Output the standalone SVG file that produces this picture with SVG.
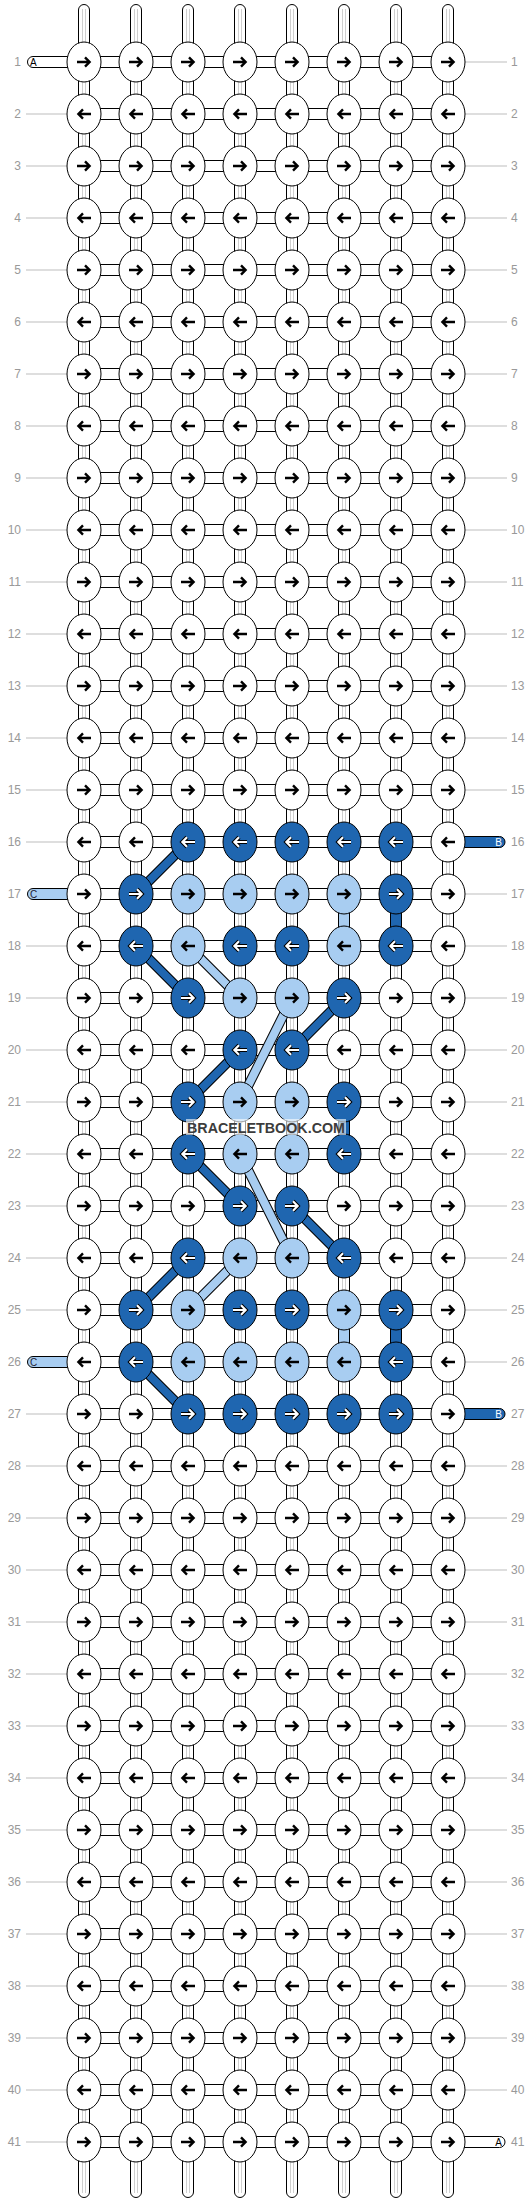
<svg xmlns="http://www.w3.org/2000/svg" xmlns:xlink="http://www.w3.org/1999/xlink" width="532" height="2204" viewBox="0 0 532 2204">
<style>
.lbl{font-family:"Liberation Sans",Arial,sans-serif;font-size:12px;fill:#999}
.le{text-anchor:end}
.tl{font-family:"Liberation Sans",Arial,sans-serif;font-size:10px}
.ar{fill:none;stroke:#000;stroke-width:2.4}
.aw1{fill:none;stroke:#000;stroke-width:4.2}
.aw2{fill:none;stroke:#fff;stroke-width:2.2}
.ew{fill:#fff;stroke:#000;stroke-width:1}
.ed{fill:#1f66b0;stroke:#000;stroke-width:1}
.el{fill:#a8cdf1;stroke:#000;stroke-width:1}
.str{fill:#fff;stroke:#000;stroke-width:1}
.inner{fill:none;stroke:#cfcfcf;stroke-width:1}
.dk{fill:#1f66b0;stroke:#000;stroke-width:1}
.lt{fill:#a8cdf1;stroke:#000;stroke-width:1}
.dgo{stroke:#000;stroke-width:10}
.dgd{stroke:#1f66b0;stroke-width:8}
.dgl{stroke:#a8cdf1;stroke-width:8}
</style>
<defs>
<path id="pR" d="M-7 0H5.2M1-4.7L5.6 0L1 4.7"/>
<path id="pL" d="M7 0H-5.2M-1-4.7L-5.6 0L-1 4.7"/>
<g id="wR"><ellipse class="ew" rx="17" ry="20"/><use href="#pR" class="ar"/></g>
<g id="wL"><ellipse class="ew" rx="17" ry="20"/><use href="#pL" class="ar"/></g>
<g id="lR"><ellipse class="el" rx="17" ry="20"/><use href="#pR" class="ar"/></g>
<g id="lL"><ellipse class="el" rx="17" ry="20"/><use href="#pL" class="ar"/></g>
<g id="dR"><ellipse class="ed" rx="17" ry="20"/><use href="#pR" class="aw1"/><use href="#pR" class="aw2"/></g>
<g id="dL"><ellipse class="ed" rx="17" ry="20"/><use href="#pL" class="aw1"/><use href="#pL" class="aw2"/></g>
<pattern id="hp" x="0" y="56" width="532" height="52" patternUnits="userSpaceOnUse"><rect x="84" y="0.5" width="364" height="11" fill="#fff" stroke="#000"/></pattern>
</defs>
<rect width="532" height="2204" fill="#fff"/>
<g id="labels">
<path fill="none" stroke="#bdbdbd" stroke-width="1" d="M26 114H67M26 166H67M26 218H67M26 270H67M26 322H67M26 374H67M26 426H67M26 478H67M26 530H67M26 582H67M26 634H67M26 686H67M26 738H67M26 790H67M26 842H67M26 946H67M26 998H67M26 1050H67M26 1102H67M26 1154H67M26 1206H67M26 1258H67M26 1310H67M26 1414H67M26 1466H67M26 1518H67M26 1570H67M26 1622H67M26 1674H67M26 1726H67M26 1778H67M26 1830H67M26 1882H67M26 1934H67M26 1986H67M26 2038H67M26 2090H67M26 2142H67M465 62H507M465 114H507M465 166H507M465 218H507M465 270H507M465 322H507M465 374H507M465 426H507M465 478H507M465 530H507M465 582H507M465 634H507M465 686H507M465 738H507M465 790H507M465 894H507M465 946H507M465 998H507M465 1050H507M465 1102H507M465 1154H507M465 1206H507M465 1258H507M465 1310H507M465 1362H507M465 1466H507M465 1518H507M465 1570H507M465 1622H507M465 1674H507M465 1726H507M465 1778H507M465 1830H507M465 1882H507M465 1934H507M465 1986H507M465 2038H507M465 2090H507"/>
<g class="lbl le">
<text x="21" y="66">1</text><text x="21" y="118">2</text><text x="21" y="170">3</text><text x="21" y="222">4</text><text x="21" y="274">5</text><text x="21" y="326">6</text><text x="21" y="378">7</text><text x="21" y="430">8</text><text x="21" y="482">9</text><text x="21" y="534">10</text><text x="21" y="586">11</text><text x="21" y="638">12</text><text x="21" y="690">13</text><text x="21" y="742">14</text><text x="21" y="794">15</text><text x="21" y="846">16</text><text x="21" y="898">17</text><text x="21" y="950">18</text><text x="21" y="1002">19</text><text x="21" y="1054">20</text><text x="21" y="1106">21</text><text x="21" y="1158">22</text><text x="21" y="1210">23</text><text x="21" y="1262">24</text><text x="21" y="1314">25</text><text x="21" y="1366">26</text><text x="21" y="1418">27</text><text x="21" y="1470">28</text><text x="21" y="1522">29</text><text x="21" y="1574">30</text><text x="21" y="1626">31</text><text x="21" y="1678">32</text><text x="21" y="1730">33</text><text x="21" y="1782">34</text><text x="21" y="1834">35</text><text x="21" y="1886">36</text><text x="21" y="1938">37</text><text x="21" y="1990">38</text><text x="21" y="2042">39</text><text x="21" y="2094">40</text><text x="21" y="2146">41</text>
</g>
<g class="lbl">
<text x="511" y="66">1</text><text x="511" y="118">2</text><text x="511" y="170">3</text><text x="511" y="222">4</text><text x="511" y="274">5</text><text x="511" y="326">6</text><text x="511" y="378">7</text><text x="511" y="430">8</text><text x="511" y="482">9</text><text x="511" y="534">10</text><text x="511" y="586">11</text><text x="511" y="638">12</text><text x="511" y="690">13</text><text x="511" y="742">14</text><text x="511" y="794">15</text><text x="511" y="846">16</text><text x="511" y="898">17</text><text x="511" y="950">18</text><text x="511" y="1002">19</text><text x="511" y="1054">20</text><text x="511" y="1106">21</text><text x="511" y="1158">22</text><text x="511" y="1210">23</text><text x="511" y="1262">24</text><text x="511" y="1314">25</text><text x="511" y="1366">26</text><text x="511" y="1418">27</text><text x="511" y="1470">28</text><text x="511" y="1522">29</text><text x="511" y="1574">30</text><text x="511" y="1626">31</text><text x="511" y="1678">32</text><text x="511" y="1730">33</text><text x="511" y="1782">34</text><text x="511" y="1834">35</text><text x="511" y="1886">36</text><text x="511" y="1938">37</text><text x="511" y="1990">38</text><text x="511" y="2042">39</text><text x="511" y="2094">40</text><text x="511" y="2146">41</text>
</g>
</g>
<g id="connectors">
<rect x="0" y="56" width="532" height="2092" fill="url(#hp)"/>
<rect class="str" x="78.5" y="4.5" width="11" height="2193" rx="5.5"/>
<rect class="str" x="130.5" y="4.5" width="11" height="2193" rx="5.5"/>
<rect class="str" x="182.5" y="4.5" width="11" height="2193" rx="5.5"/>
<rect class="str" x="234.5" y="4.5" width="11" height="2193" rx="5.5"/>
<rect class="str" x="286.5" y="4.5" width="11" height="2193" rx="5.5"/>
<rect class="str" x="338.5" y="4.5" width="11" height="2193" rx="5.5"/>
<rect class="str" x="390.5" y="4.5" width="11" height="2193" rx="5.5"/>
<rect class="str" x="442.5" y="4.5" width="11" height="2193" rx="5.5"/>
<path class="inner" d="M82.5 9V2193M85.5 9V2193M134.5 9V2193M137.5 9V2193M186.5 9V2193M189.5 9V2193M238.5 9V2193M241.5 9V2193M290.5 9V2193M293.5 9V2193M342.5 9V2193M345.5 9V2193M394.5 9V2193M397.5 9V2193M446.5 9V2193M449.5 9V2193"/>
<g id="tailA1"><rect class="str" x="27.5" y="56.5" width="50" height="11" rx="5.5"/><text class="tl" x="30" y="66" fill="#000">A</text></g>
<g id="tailA41"><rect class="str" x="455" y="2136.5" width="50" height="11" rx="5.5"/><text class="tl" x="502" y="2146" fill="#000" text-anchor="end">A</text></g>
<g id="tailB16"><rect class="dk" x="455" y="836.5" width="50" height="11" rx="5.5"/><text class="tl" x="502" y="846" fill="#fff" text-anchor="end">B</text></g>
<g id="tailB27"><rect class="dk" x="455" y="1408.5" width="50" height="11" rx="5.5"/><text class="tl" x="502" y="1418" fill="#fff" text-anchor="end">B</text></g>
<g id="tailC17"><rect class="lt" x="27.5" y="888.5" width="50" height="11" rx="5.5"/><text class="tl" x="30" y="898" fill="#223">C</text></g>
<g id="tailC26"><rect class="lt" x="27.5" y="1356.5" width="50" height="11" rx="5.5"/><text class="tl" x="30" y="1366" fill="#223">C</text></g>
<rect class="dk" x="390.5" y="894" width="11" height="52"/>
<rect class="dk" x="338.5" y="1102" width="11" height="52"/>
<rect class="dk" x="390.5" y="1310" width="11" height="52"/>
<rect class="lt" x="338.5" y="894" width="11" height="52"/>
<rect class="lt" x="286.5" y="1102" width="11" height="52"/>
<rect class="lt" x="338.5" y="1310" width="11" height="52"/>
<g class="dgo">
<line x1="188" y1="842" x2="136" y2="894"/><line x1="136" y1="946" x2="188" y2="998"/><line x1="344" y1="998" x2="292" y2="1050"/><line x1="240" y1="1050" x2="188" y2="1102"/><line x1="188" y1="1154" x2="240" y2="1206"/><line x1="292" y1="1206" x2="344" y2="1258"/><line x1="188" y1="1258" x2="136" y2="1310"/><line x1="136" y1="1362" x2="188" y2="1414"/>
<line x1="188" y1="946" x2="240" y2="998"/><line x1="292" y1="998" x2="240" y2="1102"/><line x1="240" y1="1154" x2="292" y2="1258"/><line x1="240" y1="1258" x2="188" y2="1310"/>
</g>
<g class="dgd">
<line x1="188" y1="842" x2="136" y2="894"/><line x1="136" y1="946" x2="188" y2="998"/><line x1="344" y1="998" x2="292" y2="1050"/><line x1="240" y1="1050" x2="188" y2="1102"/><line x1="188" y1="1154" x2="240" y2="1206"/><line x1="292" y1="1206" x2="344" y2="1258"/><line x1="188" y1="1258" x2="136" y2="1310"/><line x1="136" y1="1362" x2="188" y2="1414"/>
</g>
<g class="dgl">
<line x1="188" y1="946" x2="240" y2="998"/><line x1="292" y1="998" x2="240" y2="1102"/><line x1="240" y1="1154" x2="292" y2="1258"/><line x1="240" y1="1258" x2="188" y2="1310"/>
</g>
</g>
<g id="nodes">
<g id="row1" transform="translate(0 62)"><g id="n1-1"><use href="#wR" x="84"/></g><g id="n1-2"><use href="#wR" x="136"/></g><g id="n1-3"><use href="#wR" x="188"/></g><g id="n1-4"><use href="#wR" x="240"/></g><g id="n1-5"><use href="#wR" x="292"/></g><g id="n1-6"><use href="#wR" x="344"/></g><g id="n1-7"><use href="#wR" x="396"/></g><g id="n1-8"><use href="#wR" x="448"/></g></g>
<g id="row2" transform="translate(0 114)"><g id="n2-1"><use href="#wL" x="84"/></g><g id="n2-2"><use href="#wL" x="136"/></g><g id="n2-3"><use href="#wL" x="188"/></g><g id="n2-4"><use href="#wL" x="240"/></g><g id="n2-5"><use href="#wL" x="292"/></g><g id="n2-6"><use href="#wL" x="344"/></g><g id="n2-7"><use href="#wL" x="396"/></g><g id="n2-8"><use href="#wL" x="448"/></g></g>
<g id="row3" transform="translate(0 166)"><g id="n3-1"><use href="#wR" x="84"/></g><g id="n3-2"><use href="#wR" x="136"/></g><g id="n3-3"><use href="#wR" x="188"/></g><g id="n3-4"><use href="#wR" x="240"/></g><g id="n3-5"><use href="#wR" x="292"/></g><g id="n3-6"><use href="#wR" x="344"/></g><g id="n3-7"><use href="#wR" x="396"/></g><g id="n3-8"><use href="#wR" x="448"/></g></g>
<g id="row4" transform="translate(0 218)"><g id="n4-1"><use href="#wL" x="84"/></g><g id="n4-2"><use href="#wL" x="136"/></g><g id="n4-3"><use href="#wL" x="188"/></g><g id="n4-4"><use href="#wL" x="240"/></g><g id="n4-5"><use href="#wL" x="292"/></g><g id="n4-6"><use href="#wL" x="344"/></g><g id="n4-7"><use href="#wL" x="396"/></g><g id="n4-8"><use href="#wL" x="448"/></g></g>
<g id="row5" transform="translate(0 270)"><g id="n5-1"><use href="#wR" x="84"/></g><g id="n5-2"><use href="#wR" x="136"/></g><g id="n5-3"><use href="#wR" x="188"/></g><g id="n5-4"><use href="#wR" x="240"/></g><g id="n5-5"><use href="#wR" x="292"/></g><g id="n5-6"><use href="#wR" x="344"/></g><g id="n5-7"><use href="#wR" x="396"/></g><g id="n5-8"><use href="#wR" x="448"/></g></g>
<g id="row6" transform="translate(0 322)"><g id="n6-1"><use href="#wL" x="84"/></g><g id="n6-2"><use href="#wL" x="136"/></g><g id="n6-3"><use href="#wL" x="188"/></g><g id="n6-4"><use href="#wL" x="240"/></g><g id="n6-5"><use href="#wL" x="292"/></g><g id="n6-6"><use href="#wL" x="344"/></g><g id="n6-7"><use href="#wL" x="396"/></g><g id="n6-8"><use href="#wL" x="448"/></g></g>
<g id="row7" transform="translate(0 374)"><g id="n7-1"><use href="#wR" x="84"/></g><g id="n7-2"><use href="#wR" x="136"/></g><g id="n7-3"><use href="#wR" x="188"/></g><g id="n7-4"><use href="#wR" x="240"/></g><g id="n7-5"><use href="#wR" x="292"/></g><g id="n7-6"><use href="#wR" x="344"/></g><g id="n7-7"><use href="#wR" x="396"/></g><g id="n7-8"><use href="#wR" x="448"/></g></g>
<g id="row8" transform="translate(0 426)"><g id="n8-1"><use href="#wL" x="84"/></g><g id="n8-2"><use href="#wL" x="136"/></g><g id="n8-3"><use href="#wL" x="188"/></g><g id="n8-4"><use href="#wL" x="240"/></g><g id="n8-5"><use href="#wL" x="292"/></g><g id="n8-6"><use href="#wL" x="344"/></g><g id="n8-7"><use href="#wL" x="396"/></g><g id="n8-8"><use href="#wL" x="448"/></g></g>
<g id="row9" transform="translate(0 478)"><g id="n9-1"><use href="#wR" x="84"/></g><g id="n9-2"><use href="#wR" x="136"/></g><g id="n9-3"><use href="#wR" x="188"/></g><g id="n9-4"><use href="#wR" x="240"/></g><g id="n9-5"><use href="#wR" x="292"/></g><g id="n9-6"><use href="#wR" x="344"/></g><g id="n9-7"><use href="#wR" x="396"/></g><g id="n9-8"><use href="#wR" x="448"/></g></g>
<g id="row10" transform="translate(0 530)"><g id="n10-1"><use href="#wL" x="84"/></g><g id="n10-2"><use href="#wL" x="136"/></g><g id="n10-3"><use href="#wL" x="188"/></g><g id="n10-4"><use href="#wL" x="240"/></g><g id="n10-5"><use href="#wL" x="292"/></g><g id="n10-6"><use href="#wL" x="344"/></g><g id="n10-7"><use href="#wL" x="396"/></g><g id="n10-8"><use href="#wL" x="448"/></g></g>
<g id="row11" transform="translate(0 582)"><g id="n11-1"><use href="#wR" x="84"/></g><g id="n11-2"><use href="#wR" x="136"/></g><g id="n11-3"><use href="#wR" x="188"/></g><g id="n11-4"><use href="#wR" x="240"/></g><g id="n11-5"><use href="#wR" x="292"/></g><g id="n11-6"><use href="#wR" x="344"/></g><g id="n11-7"><use href="#wR" x="396"/></g><g id="n11-8"><use href="#wR" x="448"/></g></g>
<g id="row12" transform="translate(0 634)"><g id="n12-1"><use href="#wL" x="84"/></g><g id="n12-2"><use href="#wL" x="136"/></g><g id="n12-3"><use href="#wL" x="188"/></g><g id="n12-4"><use href="#wL" x="240"/></g><g id="n12-5"><use href="#wL" x="292"/></g><g id="n12-6"><use href="#wL" x="344"/></g><g id="n12-7"><use href="#wL" x="396"/></g><g id="n12-8"><use href="#wL" x="448"/></g></g>
<g id="row13" transform="translate(0 686)"><g id="n13-1"><use href="#wR" x="84"/></g><g id="n13-2"><use href="#wR" x="136"/></g><g id="n13-3"><use href="#wR" x="188"/></g><g id="n13-4"><use href="#wR" x="240"/></g><g id="n13-5"><use href="#wR" x="292"/></g><g id="n13-6"><use href="#wR" x="344"/></g><g id="n13-7"><use href="#wR" x="396"/></g><g id="n13-8"><use href="#wR" x="448"/></g></g>
<g id="row14" transform="translate(0 738)"><g id="n14-1"><use href="#wL" x="84"/></g><g id="n14-2"><use href="#wL" x="136"/></g><g id="n14-3"><use href="#wL" x="188"/></g><g id="n14-4"><use href="#wL" x="240"/></g><g id="n14-5"><use href="#wL" x="292"/></g><g id="n14-6"><use href="#wL" x="344"/></g><g id="n14-7"><use href="#wL" x="396"/></g><g id="n14-8"><use href="#wL" x="448"/></g></g>
<g id="row15" transform="translate(0 790)"><g id="n15-1"><use href="#wR" x="84"/></g><g id="n15-2"><use href="#wR" x="136"/></g><g id="n15-3"><use href="#wR" x="188"/></g><g id="n15-4"><use href="#wR" x="240"/></g><g id="n15-5"><use href="#wR" x="292"/></g><g id="n15-6"><use href="#wR" x="344"/></g><g id="n15-7"><use href="#wR" x="396"/></g><g id="n15-8"><use href="#wR" x="448"/></g></g>
<g id="row16" transform="translate(0 842)"><g id="n16-1"><use href="#wL" x="84"/></g><g id="n16-2"><use href="#wL" x="136"/></g><g id="n16-3"><use href="#dL" x="188"/></g><g id="n16-4"><use href="#dL" x="240"/></g><g id="n16-5"><use href="#dL" x="292"/></g><g id="n16-6"><use href="#dL" x="344"/></g><g id="n16-7"><use href="#dL" x="396"/></g><g id="n16-8"><use href="#wL" x="448"/></g></g>
<g id="row17" transform="translate(0 894)"><g id="n17-1"><use href="#wR" x="84"/></g><g id="n17-2"><use href="#dR" x="136"/></g><g id="n17-3"><use href="#lR" x="188"/></g><g id="n17-4"><use href="#lR" x="240"/></g><g id="n17-5"><use href="#lR" x="292"/></g><g id="n17-6"><use href="#lR" x="344"/></g><g id="n17-7"><use href="#dR" x="396"/></g><g id="n17-8"><use href="#wR" x="448"/></g></g>
<g id="row18" transform="translate(0 946)"><g id="n18-1"><use href="#wL" x="84"/></g><g id="n18-2"><use href="#dL" x="136"/></g><g id="n18-3"><use href="#lL" x="188"/></g><g id="n18-4"><use href="#dL" x="240"/></g><g id="n18-5"><use href="#dL" x="292"/></g><g id="n18-6"><use href="#lL" x="344"/></g><g id="n18-7"><use href="#dL" x="396"/></g><g id="n18-8"><use href="#wL" x="448"/></g></g>
<g id="row19" transform="translate(0 998)"><g id="n19-1"><use href="#wR" x="84"/></g><g id="n19-2"><use href="#wR" x="136"/></g><g id="n19-3"><use href="#dR" x="188"/></g><g id="n19-4"><use href="#lR" x="240"/></g><g id="n19-5"><use href="#lR" x="292"/></g><g id="n19-6"><use href="#dR" x="344"/></g><g id="n19-7"><use href="#wR" x="396"/></g><g id="n19-8"><use href="#wR" x="448"/></g></g>
<g id="row20" transform="translate(0 1050)"><g id="n20-1"><use href="#wL" x="84"/></g><g id="n20-2"><use href="#wL" x="136"/></g><g id="n20-3"><use href="#wL" x="188"/></g><g id="n20-4"><use href="#dL" x="240"/></g><g id="n20-5"><use href="#dL" x="292"/></g><g id="n20-6"><use href="#wL" x="344"/></g><g id="n20-7"><use href="#wL" x="396"/></g><g id="n20-8"><use href="#wL" x="448"/></g></g>
<g id="row21" transform="translate(0 1102)"><g id="n21-1"><use href="#wR" x="84"/></g><g id="n21-2"><use href="#wR" x="136"/></g><g id="n21-3"><use href="#dR" x="188"/></g><g id="n21-4"><use href="#lR" x="240"/></g><g id="n21-5"><use href="#lR" x="292"/></g><g id="n21-6"><use href="#dR" x="344"/></g><g id="n21-7"><use href="#wR" x="396"/></g><g id="n21-8"><use href="#wR" x="448"/></g></g>
<g id="row22" transform="translate(0 1154)"><g id="n22-1"><use href="#wL" x="84"/></g><g id="n22-2"><use href="#wL" x="136"/></g><g id="n22-3"><use href="#dL" x="188"/></g><g id="n22-4"><use href="#lL" x="240"/></g><g id="n22-5"><use href="#lL" x="292"/></g><g id="n22-6"><use href="#dL" x="344"/></g><g id="n22-7"><use href="#wL" x="396"/></g><g id="n22-8"><use href="#wL" x="448"/></g></g>
<g id="row23" transform="translate(0 1206)"><g id="n23-1"><use href="#wR" x="84"/></g><g id="n23-2"><use href="#wR" x="136"/></g><g id="n23-3"><use href="#wR" x="188"/></g><g id="n23-4"><use href="#dR" x="240"/></g><g id="n23-5"><use href="#dR" x="292"/></g><g id="n23-6"><use href="#wR" x="344"/></g><g id="n23-7"><use href="#wR" x="396"/></g><g id="n23-8"><use href="#wR" x="448"/></g></g>
<g id="row24" transform="translate(0 1258)"><g id="n24-1"><use href="#wL" x="84"/></g><g id="n24-2"><use href="#wL" x="136"/></g><g id="n24-3"><use href="#dL" x="188"/></g><g id="n24-4"><use href="#lL" x="240"/></g><g id="n24-5"><use href="#lL" x="292"/></g><g id="n24-6"><use href="#dL" x="344"/></g><g id="n24-7"><use href="#wL" x="396"/></g><g id="n24-8"><use href="#wL" x="448"/></g></g>
<g id="row25" transform="translate(0 1310)"><g id="n25-1"><use href="#wR" x="84"/></g><g id="n25-2"><use href="#dR" x="136"/></g><g id="n25-3"><use href="#lR" x="188"/></g><g id="n25-4"><use href="#dR" x="240"/></g><g id="n25-5"><use href="#dR" x="292"/></g><g id="n25-6"><use href="#lR" x="344"/></g><g id="n25-7"><use href="#dR" x="396"/></g><g id="n25-8"><use href="#wR" x="448"/></g></g>
<g id="row26" transform="translate(0 1362)"><g id="n26-1"><use href="#wL" x="84"/></g><g id="n26-2"><use href="#dL" x="136"/></g><g id="n26-3"><use href="#lL" x="188"/></g><g id="n26-4"><use href="#lL" x="240"/></g><g id="n26-5"><use href="#lL" x="292"/></g><g id="n26-6"><use href="#lL" x="344"/></g><g id="n26-7"><use href="#dL" x="396"/></g><g id="n26-8"><use href="#wL" x="448"/></g></g>
<g id="row27" transform="translate(0 1414)"><g id="n27-1"><use href="#wR" x="84"/></g><g id="n27-2"><use href="#wR" x="136"/></g><g id="n27-3"><use href="#dR" x="188"/></g><g id="n27-4"><use href="#dR" x="240"/></g><g id="n27-5"><use href="#dR" x="292"/></g><g id="n27-6"><use href="#dR" x="344"/></g><g id="n27-7"><use href="#dR" x="396"/></g><g id="n27-8"><use href="#wR" x="448"/></g></g>
<g id="row28" transform="translate(0 1466)"><g id="n28-1"><use href="#wL" x="84"/></g><g id="n28-2"><use href="#wL" x="136"/></g><g id="n28-3"><use href="#wL" x="188"/></g><g id="n28-4"><use href="#wL" x="240"/></g><g id="n28-5"><use href="#wL" x="292"/></g><g id="n28-6"><use href="#wL" x="344"/></g><g id="n28-7"><use href="#wL" x="396"/></g><g id="n28-8"><use href="#wL" x="448"/></g></g>
<g id="row29" transform="translate(0 1518)"><g id="n29-1"><use href="#wR" x="84"/></g><g id="n29-2"><use href="#wR" x="136"/></g><g id="n29-3"><use href="#wR" x="188"/></g><g id="n29-4"><use href="#wR" x="240"/></g><g id="n29-5"><use href="#wR" x="292"/></g><g id="n29-6"><use href="#wR" x="344"/></g><g id="n29-7"><use href="#wR" x="396"/></g><g id="n29-8"><use href="#wR" x="448"/></g></g>
<g id="row30" transform="translate(0 1570)"><g id="n30-1"><use href="#wL" x="84"/></g><g id="n30-2"><use href="#wL" x="136"/></g><g id="n30-3"><use href="#wL" x="188"/></g><g id="n30-4"><use href="#wL" x="240"/></g><g id="n30-5"><use href="#wL" x="292"/></g><g id="n30-6"><use href="#wL" x="344"/></g><g id="n30-7"><use href="#wL" x="396"/></g><g id="n30-8"><use href="#wL" x="448"/></g></g>
<g id="row31" transform="translate(0 1622)"><g id="n31-1"><use href="#wR" x="84"/></g><g id="n31-2"><use href="#wR" x="136"/></g><g id="n31-3"><use href="#wR" x="188"/></g><g id="n31-4"><use href="#wR" x="240"/></g><g id="n31-5"><use href="#wR" x="292"/></g><g id="n31-6"><use href="#wR" x="344"/></g><g id="n31-7"><use href="#wR" x="396"/></g><g id="n31-8"><use href="#wR" x="448"/></g></g>
<g id="row32" transform="translate(0 1674)"><g id="n32-1"><use href="#wL" x="84"/></g><g id="n32-2"><use href="#wL" x="136"/></g><g id="n32-3"><use href="#wL" x="188"/></g><g id="n32-4"><use href="#wL" x="240"/></g><g id="n32-5"><use href="#wL" x="292"/></g><g id="n32-6"><use href="#wL" x="344"/></g><g id="n32-7"><use href="#wL" x="396"/></g><g id="n32-8"><use href="#wL" x="448"/></g></g>
<g id="row33" transform="translate(0 1726)"><g id="n33-1"><use href="#wR" x="84"/></g><g id="n33-2"><use href="#wR" x="136"/></g><g id="n33-3"><use href="#wR" x="188"/></g><g id="n33-4"><use href="#wR" x="240"/></g><g id="n33-5"><use href="#wR" x="292"/></g><g id="n33-6"><use href="#wR" x="344"/></g><g id="n33-7"><use href="#wR" x="396"/></g><g id="n33-8"><use href="#wR" x="448"/></g></g>
<g id="row34" transform="translate(0 1778)"><g id="n34-1"><use href="#wL" x="84"/></g><g id="n34-2"><use href="#wL" x="136"/></g><g id="n34-3"><use href="#wL" x="188"/></g><g id="n34-4"><use href="#wL" x="240"/></g><g id="n34-5"><use href="#wL" x="292"/></g><g id="n34-6"><use href="#wL" x="344"/></g><g id="n34-7"><use href="#wL" x="396"/></g><g id="n34-8"><use href="#wL" x="448"/></g></g>
<g id="row35" transform="translate(0 1830)"><g id="n35-1"><use href="#wR" x="84"/></g><g id="n35-2"><use href="#wR" x="136"/></g><g id="n35-3"><use href="#wR" x="188"/></g><g id="n35-4"><use href="#wR" x="240"/></g><g id="n35-5"><use href="#wR" x="292"/></g><g id="n35-6"><use href="#wR" x="344"/></g><g id="n35-7"><use href="#wR" x="396"/></g><g id="n35-8"><use href="#wR" x="448"/></g></g>
<g id="row36" transform="translate(0 1882)"><g id="n36-1"><use href="#wL" x="84"/></g><g id="n36-2"><use href="#wL" x="136"/></g><g id="n36-3"><use href="#wL" x="188"/></g><g id="n36-4"><use href="#wL" x="240"/></g><g id="n36-5"><use href="#wL" x="292"/></g><g id="n36-6"><use href="#wL" x="344"/></g><g id="n36-7"><use href="#wL" x="396"/></g><g id="n36-8"><use href="#wL" x="448"/></g></g>
<g id="row37" transform="translate(0 1934)"><g id="n37-1"><use href="#wR" x="84"/></g><g id="n37-2"><use href="#wR" x="136"/></g><g id="n37-3"><use href="#wR" x="188"/></g><g id="n37-4"><use href="#wR" x="240"/></g><g id="n37-5"><use href="#wR" x="292"/></g><g id="n37-6"><use href="#wR" x="344"/></g><g id="n37-7"><use href="#wR" x="396"/></g><g id="n37-8"><use href="#wR" x="448"/></g></g>
<g id="row38" transform="translate(0 1986)"><g id="n38-1"><use href="#wL" x="84"/></g><g id="n38-2"><use href="#wL" x="136"/></g><g id="n38-3"><use href="#wL" x="188"/></g><g id="n38-4"><use href="#wL" x="240"/></g><g id="n38-5"><use href="#wL" x="292"/></g><g id="n38-6"><use href="#wL" x="344"/></g><g id="n38-7"><use href="#wL" x="396"/></g><g id="n38-8"><use href="#wL" x="448"/></g></g>
<g id="row39" transform="translate(0 2038)"><g id="n39-1"><use href="#wR" x="84"/></g><g id="n39-2"><use href="#wR" x="136"/></g><g id="n39-3"><use href="#wR" x="188"/></g><g id="n39-4"><use href="#wR" x="240"/></g><g id="n39-5"><use href="#wR" x="292"/></g><g id="n39-6"><use href="#wR" x="344"/></g><g id="n39-7"><use href="#wR" x="396"/></g><g id="n39-8"><use href="#wR" x="448"/></g></g>
<g id="row40" transform="translate(0 2090)"><g id="n40-1"><use href="#wL" x="84"/></g><g id="n40-2"><use href="#wL" x="136"/></g><g id="n40-3"><use href="#wL" x="188"/></g><g id="n40-4"><use href="#wL" x="240"/></g><g id="n40-5"><use href="#wL" x="292"/></g><g id="n40-6"><use href="#wL" x="344"/></g><g id="n40-7"><use href="#wL" x="396"/></g><g id="n40-8"><use href="#wL" x="448"/></g></g>
<g id="row41" transform="translate(0 2142)"><g id="n41-1"><use href="#wR" x="84"/></g><g id="n41-2"><use href="#wR" x="136"/></g><g id="n41-3"><use href="#wR" x="188"/></g><g id="n41-4"><use href="#wR" x="240"/></g><g id="n41-5"><use href="#wR" x="292"/></g><g id="n41-6"><use href="#wR" x="344"/></g><g id="n41-7"><use href="#wR" x="396"/></g><g id="n41-8"><use href="#wR" x="448"/></g></g>
</g>
<g id="watermark">
<rect x="186" y="1119" width="160" height="16" fill="#fff" fill-opacity="0.6"/>
<text x="266" y="1133" text-anchor="middle" font-family="'Liberation Sans',Arial,sans-serif" font-weight="bold" font-size="14.5" fill="#3c3c3c" textLength="158" lengthAdjust="spacingAndGlyphs">BRACELETBOOK.COM</text>
</g>
</svg>
